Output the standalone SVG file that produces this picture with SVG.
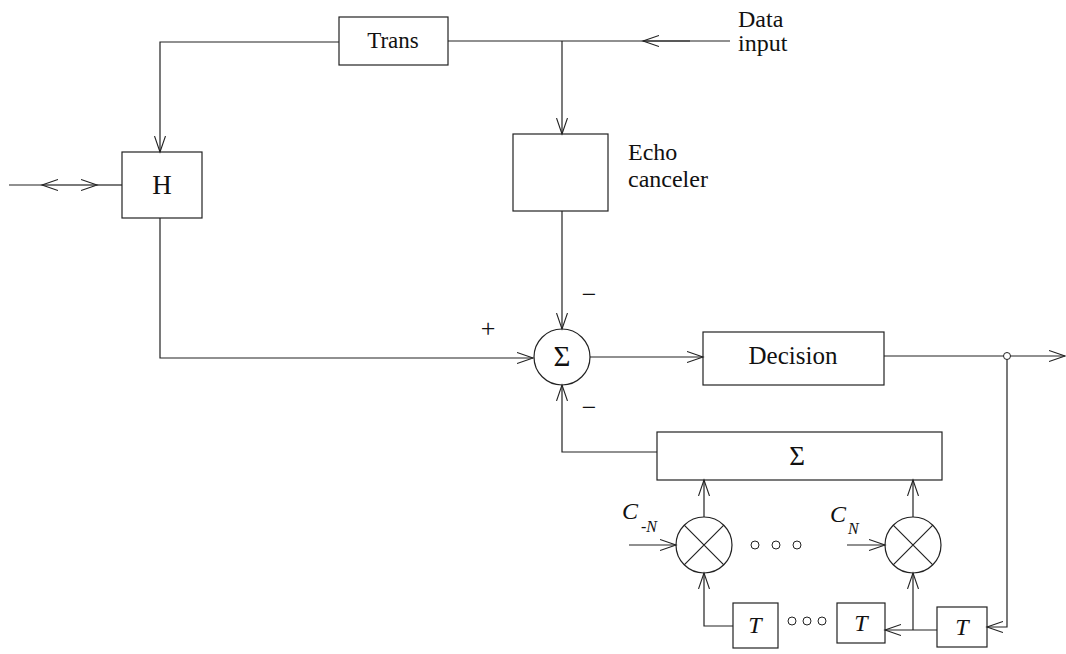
<svg xmlns="http://www.w3.org/2000/svg" width="1066" height="654" viewBox="0 0 1066 654">
<defs>
<style>
.box{fill:none;stroke:#222;stroke-width:1.2}
.ln{fill:none;stroke:#222;stroke-width:1.2}
.t{font-family:"Liberation Serif",serif;font-size:24px;fill:#111}
.ti{font-family:"Liberation Serif",serif;font-size:24px;font-style:italic;fill:#111}
.c{text-anchor:middle}
.dot{fill:none;stroke:#222;stroke-width:1}
</style>
<marker id="ah" markerUnits="userSpaceOnUse" markerWidth="18" markerHeight="12" refX="16" refY="6" orient="auto" viewBox="0 0 18 12">
<path d="M0,0.5 L16,6 L0,11.5" fill="none" stroke="#222" stroke-width="1.1"/>
</marker>
</defs>
<rect width="1066" height="654" fill="#fff"/>

<g id="connectors">
<path class="ln" d="M339,42 H160 V152" marker-end="url(#ah)"/>
<path class="ln" d="M448,41 H730"/>
<path class="ln" d="M690,41 H643" marker-end="url(#ah)"/>
<path class="ln" d="M562,41 V134" marker-end="url(#ah)"/>
<path class="ln" d="M9,185 H42"/>
<path class="ln" d="M70,185 H42" marker-end="url(#ah)"/>
<path class="ln" d="M70,185 H97" marker-end="url(#ah)"/>
<path class="ln" d="M97,185 H122"/>
<path class="ln" d="M160,218 V358 H533" marker-end="url(#ah)"/>
<path class="ln" d="M562,211 V329" marker-end="url(#ah)"/>
<path class="ln" d="M590,357 H703" marker-end="url(#ah)"/>
<path class="ln" d="M884,356 H1003.5"/>
<path class="ln" d="M1010.5,356 H1065" marker-end="url(#ah)"/>
<path class="ln" d="M1007,359.5 V627 H987" marker-end="url(#ah)"/>
<path class="ln" d="M657,452 H562 V385" marker-end="url(#ah)"/>
<path class="ln" d="M704,517 V480" marker-end="url(#ah)"/>
<path class="ln" d="M913,517 V480" marker-end="url(#ah)"/>
<path class="ln" d="M629,545 H676" marker-end="url(#ah)"/>
<path class="ln" d="M847,545 H885" marker-end="url(#ah)"/>
<path class="ln" d="M733,626 H704 V573" marker-end="url(#ah)"/>
<path class="ln" d="M937,630 H885" marker-end="url(#ah)"/>
<path class="ln" d="M913,630 V573" marker-end="url(#ah)"/>
<circle class="dot" cx="1007" cy="356" r="3.5"/>
</g>

<g id="trans">
<rect class="box" x="339" y="17" width="109" height="48"/>
<text class="t c" x="393" y="48" style="font-size:23px">Trans</text>
</g>
<g id="data-input">
<text class="t" x="738" y="27">Data</text>
<text class="t" x="738" y="51">input</text>
</g>
<g id="hybrid">
<rect class="box" x="122" y="152" width="80" height="66"/>
<text class="t c" x="162" y="194" style="font-size:27px">H</text>
</g>
<g id="echo-canceler">
<rect class="box" x="513" y="134" width="95" height="77"/>
<text class="t" x="628" y="160">Echo</text>
<text class="t" x="628" y="187">canceler</text>
</g>
<g id="sum">
<circle class="box" cx="562" cy="357" r="28"/>
<text class="t c" x="562" y="366" style="font-size:29px">Σ</text>
<text class="t c" x="488" y="337" style="font-size:26px">+</text>
<text class="t c" x="589" y="303" style="font-size:26px">−</text>
<text class="t c" x="589" y="416" style="font-size:26px">−</text>
</g>
<g id="decision">
<rect class="box" x="703" y="332" width="181" height="53"/>
<text class="t c" x="793" y="364" style="font-size:25px">Decision</text>
</g>
<g id="tap-sum">
<rect class="box" x="657" y="432" width="285" height="48"/>
<text class="t c" x="797" y="465" style="font-size:27px">Σ</text>
</g>
<g id="mult-1">
<circle class="box" cx="704" cy="545" r="28"/>
<path class="ln" d="M684.2,525.2 L723.8,564.8 M723.8,525.2 L684.2,564.8"/>
<text class="ti" x="622" y="519">C</text>
<text class="ti" x="641" y="532" style="font-size:16px">-N</text>
</g>
<g id="mult-dots">
<circle class="dot" cx="755" cy="545" r="4"/>
<circle class="dot" cx="776" cy="545" r="4"/>
<circle class="dot" cx="797" cy="545" r="4"/>
</g>
<g id="mult-2">
<circle class="box" cx="913" cy="545" r="28"/>
<path class="ln" d="M893.2,525.2 L932.8,564.8 M932.8,525.2 L893.2,564.8"/>
<text class="ti" x="830" y="522">C</text>
<text class="ti" x="848" y="534" style="font-size:16px">N</text>
</g>
<g id="delay-1">
<rect class="box" x="733" y="603" width="45" height="45"/>
<text class="ti c" x="755" y="633">T</text>
</g>
<g id="delay-dots">
<circle class="dot" cx="792" cy="621" r="4"/>
<circle class="dot" cx="807" cy="621" r="4"/>
<circle class="dot" cx="822" cy="621" r="4"/>
</g>
<g id="delay-2">
<rect class="box" x="837" y="603" width="48" height="40"/>
<text class="ti c" x="861" y="631">T</text>
</g>
<g id="delay-3">
<rect class="box" x="937" y="607" width="50" height="40"/>
<text class="ti c" x="962" y="635">T</text>
</g>
</svg>
